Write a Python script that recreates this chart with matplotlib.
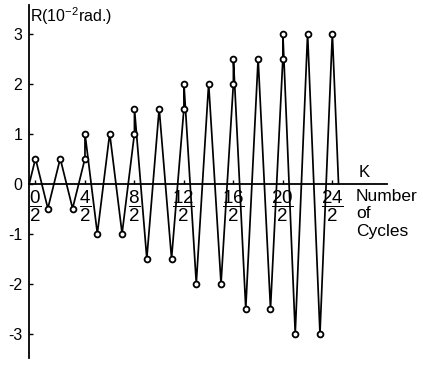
import matplotlib
matplotlib.use("Agg")
import matplotlib.pyplot as plt

plt.rcParams['font.family'] = ['Liberation Sans', 'DejaVu Sans']
plt.rcParams['mathtext.fontset'] = 'custom'
plt.rcParams['mathtext.rm'] = 'Liberation Sans'
plt.rcParams['mathtext.it'] = 'Liberation Sans'

# K (half-cycle index) and response R (10^-2 rad)
k_values = [-0.5, 0, 1, 2, 3, 4, 4, 5, 6, 7, 8, 8, 9, 10, 11, 12, 12, 13, 14, 15,
            16, 16, 17, 18, 19, 20, 20, 21, 22, 23, 24, 24.5]
r_values = [0, 0.5, -0.5, 0.5, -0.5, 0.5, 1.0, -1.0, 1.0, -1.0, 1.0, 1.5, -1.5, 1.5, -1.5,
            1.5, 2.0, -2.0, 2.0, -2.0, 2.0, 2.5, -2.5, 2.5, -2.5, 2.5, 3.0, -3.0, 3.0, -3.0, 3.0, 0]
x_ticks = [0, 4, 8, 12, 16, 20, 24]
x_tick_labels = [r'$\dfrac{%d}{2}$' % t for t in x_ticks]
y_ticks = [-3, -2, -1, 0, 1, 2, 3]
y_tick_labels = ['-3', '-2', '-1', '0', '1', '2', '3']

fig = plt.figure(figsize=(4.23, 3.66), dpi=100)
ax = fig.add_axes([0, 0, 1, 1])
ax.set_xlim(-2.87, 31.33)
ax.set_ylim((183.5 - 366) / 50, 183.5 / 50)

ax.plot(k_values, r_values, color='black', lw=1.25, marker='o', ms=4.2,
        mfc='white', mec='black', mew=1.3, markevery=list(range(1, len(k_values) - 1)),
        zorder=3)

for s in ['top', 'right']:
    ax.spines[s].set_visible(False)
ax.spines['left'].set_position(('data', -0.5))
ax.spines['bottom'].set_position(('data', 0))
ax.spines['left'].set_bounds(-3.48, 3.57)
ax.spines['bottom'].set_bounds(-0.5, 28.4)
ax.spines['left'].set_linewidth(1.3)
ax.spines['bottom'].set_linewidth(1.3)

ax.set_yticks(y_ticks)
ax.set_yticklabels(y_tick_labels)
ax.set_xticks(x_ticks)
ax.set_xticklabels(x_tick_labels)
ax.tick_params(axis='y', direction='in', length=3, width=1, pad=5, labelsize=11.5)
ax.tick_params(axis='x', direction='in', length=3, width=1, pad=3, labelsize=13.5)
ax.patch.set_visible(False)

ax.text(-0.42, 3.35, r'R(10$^{-2}$rad.)', fontsize=11.5, va='center', ha='left')
ax.text(26.1, 0.23, 'K', fontsize=12, va='center', ha='left')
ax.text(25.9, -0.1, 'Number\nof\nCycles', fontsize=12.5, va='top', ha='left',
        linespacing=1.22)

fig.savefig('out.png', dpi=100)
